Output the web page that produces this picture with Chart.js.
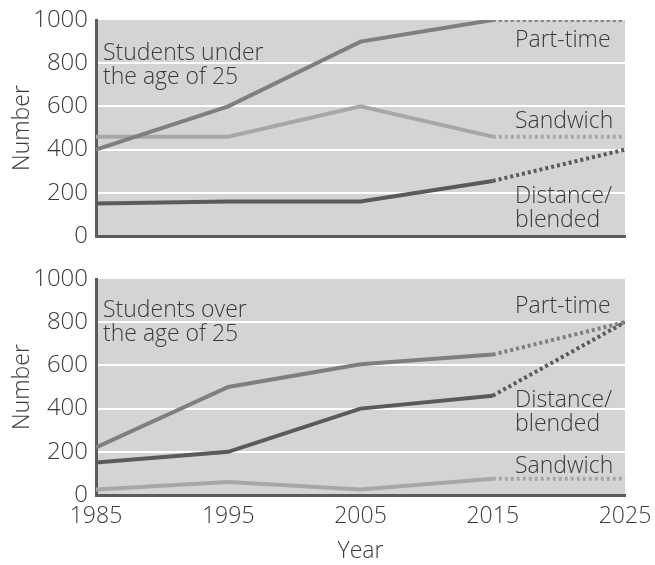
<!DOCTYPE html>
<html>
<head>
<meta charset="utf-8">
<script src="https://cdn.jsdelivr.net/npm/chart.js@4"></script>
<style>
  html, body { margin: 0; padding: 0; background: #fff; }
  .box { position: absolute; left: 0; width: 655px; }
  #top { top: 0; height: 250px; }
  #bottom { top: 250px; height: 315px; }
</style>
</head>
<body>
<div class="box" id="top"><canvas id="chartUnder"></canvas></div>
<div class="box" id="bottom"><canvas id="chartOver"></canvas></div>
<script>
const years = [1985, 1995, 2005, 2015, 2025];
const yTicks = [0, 200, 400, 600, 800, 1000];

// students under 25
const underPartTime = [400, 600, 900, 1000, 1000];
const underSandwich = [460, 460, 600, 460, 460];
const underDistance = [150, 160, 160, 255, 400];

// students over 25
const overPartTime = [220, 500, 605, 650, 800];
const overDistance = [150, 200, 400, 460, 800];
const overSandwich = [25, 60, 25, 75, 75];

const FONT = "'Open Sans', 'DejaVu Sans', sans-serif";
const textColor = '#3a3a3a';

function series(values, color) {
    return {
        data: years.map((y, i) => ({ x: y, y: values[i] })),
        borderColor: color,
        borderWidth: 4,
        pointRadius: 0,
        tension: 0,
        borderCapStyle: 'butt',
        segment: {
            // the last stretch (2015-2025) is a projection, drawn dotted
            borderDash: ctx => ctx.p1DataIndex === years.length - 1 ? [3, 3] : undefined
        }
    };
}

const plotBg = {
    id: 'plotBg',
    beforeDraw(chart) {
        const a = chart.chartArea;
        const ctx = chart.ctx;
        ctx.save();
        ctx.fillStyle = '#d3d4d6';
        ctx.fillRect(a.left, a.top, a.right - a.left, a.bottom - a.top);
        ctx.restore();
    }
};

const notes = {
    id: 'notes',
    afterDatasetsDraw(chart, args, opts) {
        const ctx = chart.ctx;
        ctx.save();
        ctx.font = '300 23px ' + FONT;
        ctx.fillStyle = textColor;
        ctx.textBaseline = 'alphabetic';
        ctx.textAlign = 'left';
        (opts.items || []).forEach(it => {
            it.lines.forEach((line, i) => ctx.fillText(line, it.x, it.y + i * 24));
        });
        ctx.restore();
    }
};

function makeChart(id, datasets, showX, pad, xHeight, items) {
    return new Chart(document.getElementById(id), {
        type: 'line',
        data: { datasets },
        plugins: [plotBg, notes],
        options: {
            responsive: true,
            maintainAspectRatio: false,
            animation: false,
            layout: { padding: pad },
            plugins: {
                legend: { display: false },
                tooltip: { enabled: false },
                notes: { items }
            },
            scales: {
                x: {
                    type: 'linear',
                    min: 1985,
                    max: 2025,
                    afterBuildTicks: axis => { axis.ticks = years.map(v => ({ value: v })); },
                    afterFit: axis => {
                        axis.height = xHeight;
                        axis.paddingLeft = 0;
                        axis.paddingRight = 0;
                    },
                    grid: { display: false, drawTicks: false },
                    border: { display: true, color: '#5c5c5c', width: 3 },
                    ticks: {
                        display: showX,
                        padding: 8,
                        maxRotation: 0,
                        color: textColor,
                        font: { family: FONT, size: 23, weight: '300' },
                        callback: v => String(v)
                    },
                    title: {
                        display: showX,
                        text: 'Year',
                        color: textColor,
                        padding: { top: 6, bottom: 0 },
                        font: { family: FONT, size: 23, weight: '300' }
                    }
                },
                y: {
                    min: 0,
                    max: 1000,
                    afterBuildTicks: axis => { axis.ticks = yTicks.map(v => ({ value: v })); },
                    afterFit: axis => {
                        axis.width = 87;
                        axis.paddingTop = 0;
                        axis.paddingBottom = 0;
                    },
                    grid: {
                        color: ctx => (ctx.tick && (ctx.tick.value === 0 || ctx.tick.value === 1000)) ? 'rgba(0,0,0,0)' : '#ffffff',
                        lineWidth: 2,
                        drawTicks: false
                    },
                    border: { display: true, color: '#5c5c5c', width: 3 },
                    ticks: {
                        padding: 8,
                        color: textColor,
                        font: { family: FONT, size: 24, weight: '300' },
                        callback: v => String(v)
                    },
                    title: {
                        display: true,
                        text: 'Number',
                        color: textColor,
                        padding: { top: 0, bottom: 2 },
                        font: { family: FONT, size: 23, weight: '300' }
                    }
                }
            }
        }
    });
}

makeChart('chartUnder', [
    series(underPartTime, '#7f7f7f'),
    series(underSandwich, '#a7a7a7'),
    series(underDistance, '#5a5a5a')
], false, { top: 20, right: 30, bottom: 0, left: 9 }, 14, [
    { x: 103, y: 60, lines: ['Students under', 'the age of 25'] },
    { x: 515, y: 47, lines: ['Part-time'] },
    { x: 515, y: 128, lines: ['Sandwich'] },
    { x: 515, y: 203, lines: ['Distance/', 'blended'] }
]);

makeChart('chartOver', [
    series(overPartTime, '#7f7f7f'),
    series(overDistance, '#5a5a5a'),
    series(overSandwich, '#a7a7a7')
], true, { top: 29, right: 30, bottom: 0, left: 9 }, 70, [
    { x: 103, y: 67, lines: ['Students over', 'the age of 25'] },
    { x: 515, y: 63, lines: ['Part-time'] },
    { x: 515, y: 157, lines: ['Distance/', 'blended'] },
    { x: 515, y: 223, lines: ['Sandwich'] }
]);
</script>
</body>
</html>
